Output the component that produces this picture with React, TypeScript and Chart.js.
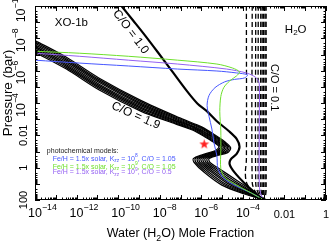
import { useEffect, useRef } from "react";
import { Chart, registerables } from "chart.js";

Chart.register(...registerables);

// ---------- axes ----------
const X_MIN = 1e-14;
const X_MAX = 1;
const Y_MIN = 1e-10; // top (pressure axis is reversed)
const Y_MAX = 100; // bottom

const X_TICK_VALUES = [1e-14, 1e-12, 1e-10, 1e-8, 1e-6, 1e-4, 0.01, 1];
const X_TICK_LABELS = ["10^{-14}", "10^{-12}", "10^{-10}", "10^{-8}", "10^{-6}", "10^{-4}", "0.01", "1"];
const Y_TICK_VALUES = [1e-10, 1e-8, 1e-6, 1e-4, 0.01, 1, 100];
const Y_TICK_LABELS = ["10^{-10}", "10^{-8}", "10^{-6}", "10^{-4}", "0.01", "1", "100"];

const X_TITLE = "Water (H_{2}O) Mole Fraction";
const Y_TITLE = "Pressure (bar)";

// ---------- profiles: [log10(H2O mole fraction), log10(P / bar)] ----------
// Thermochemical equilibrium, C/O = 1.0 (thick solid)
const CO_1_0 = [[-9.84,-10.0],[-9.27,-9.09],[-8.70,-8.17],[-8.09,-7.14],[-7.38,-5.92],[-6.67,-4.70],[-6.19,-3.97],[-5.72,-3.48],[-5.25,-2.87],[-4.68,-2.27],[-4.30,-1.78],[-4.16,-1.29],[-4.30,-0.86],[-4.59,-0.50],[-4.63,-0.19],[-4.40,0.29],[-3.92,0.96],[-3.45,1.51],[-2.98,2.0]];

// C/O > 1 (thin solid)
const CO_1_1 = [[-14.0,-7.87],[-12.49,-6.83],[-10.93,-5.55],[-8.89,-4.15],[-7.00,-3.06],[-5.96,-2.51],[-5.34,-2.02],[-4.87,-1.60],[-4.59,-1.23],[-4.73,-0.93],[-5.25,-0.74],[-5.63,-0.56],[-5.58,-0.32],[-5.15,0.05],[-4.30,0.78],[-3.59,1.39],[-2.98,2.0]];
const CO_1_2 = [[-14.0,-7.78],[-12.49,-6.74],[-10.93,-5.46],[-8.89,-4.07],[-7.08,-3.04],[-6.02,-2.49],[-5.40,-2.00],[-4.94,-1.60],[-4.66,-1.24],[-4.81,-0.95],[-5.34,-0.75],[-5.72,-0.56],[-5.68,-0.32],[-5.24,0.08],[-4.39,0.82],[-3.63,1.42],[-2.98,2.0]];
const CO_1_3 = [[-14.0,-7.69],[-12.49,-6.65],[-10.93,-5.37],[-8.89,-3.98],[-7.15,-3.01],[-6.08,-2.47],[-5.46,-1.99],[-5.01,-1.60],[-4.73,-1.25],[-4.88,-0.96],[-5.43,-0.76],[-5.82,-0.56],[-5.77,-0.32],[-5.33,0.11],[-4.48,0.86],[-3.67,1.45],[-2.98,2.0]];
const CO_1_4 = [[-14.0,-7.60],[-12.49,-6.56],[-10.93,-5.28],[-8.89,-3.90],[-7.23,-2.99],[-6.14,-2.44],[-5.52,-1.97],[-5.08,-1.60],[-4.80,-1.25],[-4.96,-0.98],[-5.52,-0.76],[-5.91,-0.56],[-5.87,-0.32],[-5.42,0.14],[-4.57,0.89],[-3.71,1.48],[-2.98,2.0]];
const CO_1_5 = [[-14.0,-7.50],[-12.49,-6.46],[-10.93,-5.18],[-8.89,-3.82],[-7.31,-2.96],[-6.20,-2.42],[-5.58,-1.96],[-5.16,-1.60],[-4.87,-1.26],[-5.04,-0.99],[-5.61,-0.77],[-6.01,-0.56],[-5.96,-0.32],[-5.51,0.17],[-4.66,0.93],[-3.76,1.51],[-2.98,2.0]];
const CO_1_6 = [[-14.0,-7.41],[-12.49,-6.37],[-10.93,-5.09],[-8.89,-3.73],[-7.38,-2.94],[-6.25,-2.40],[-5.64,-1.94],[-5.23,-1.60],[-4.94,-1.27],[-5.11,-1.01],[-5.69,-0.78],[-6.10,-0.56],[-6.06,-0.32],[-5.59,0.20],[-4.74,0.97],[-3.80,1.54],[-2.98,2.0]];
const CO_1_7 = [[-14.0,-7.32],[-12.49,-6.28],[-10.93,-5.00],[-8.89,-3.65],[-7.46,-2.92],[-6.31,-2.38],[-5.70,-1.93],[-5.30,-1.60],[-5.01,-1.27],[-5.19,-1.02],[-5.78,-0.78],[-6.19,-0.56],[-6.15,-0.32],[-5.68,0.23],[-4.83,1.01],[-3.84,1.57],[-2.98,2.0]];
const CO_1_8 = [[-14.0,-7.23],[-12.49,-6.19],[-10.93,-4.91],[-8.89,-3.56],[-7.53,-2.89],[-6.37,-2.35],[-5.76,-1.91],[-5.37,-1.60],[-5.08,-1.28],[-5.26,-1.04],[-5.87,-0.79],[-6.29,-0.56],[-6.25,-0.32],[-5.77,0.26],[-4.92,1.04],[-3.88,1.60],[-2.98,2.0]];
const CO_1_9 = [[-14.0,-7.14],[-12.49,-6.10],[-10.93,-4.82],[-8.89,-3.48],[-7.61,-2.87],[-6.43,-2.33],[-5.82,-1.90],[-5.44,-1.60],[-5.15,-1.29],[-5.34,-1.05],[-5.96,-0.80],[-6.38,-0.56],[-6.34,-0.32],[-5.86,0.29],[-5.01,1.08],[-3.92,1.63],[-2.98,2.0]];

// C/O < 1 (dashed)
const CO_0_9 = [[-3.83,-10.0],[-3.83,-0.5],[-3.88,0.3],[-3.83,0.9],[-3.60,1.4],[-3.25,1.8],[-2.98,2.0]];
const CO_0_8 = [[-3.55,-10.0],[-3.55,0.9],[-3.40,1.5],[-3.15,1.85],[-2.98,2.0]];
const CO_0_7 = [[-3.38,-10.0],[-3.38,1.0],[-3.27,1.55],[-3.10,1.85],[-2.98,2.0]];
const CO_0_6 = [[-3.26,-10.0],[-3.26,1.1],[-3.18,1.6],[-3.06,1.88],[-2.98,2.0]];
const CO_0_5 = [[-3.14,-10.0],[-3.14,1.2],[-3.09,1.65],[-3.02,1.9],[-2.98,2.0]];
const CO_0_4 = [[-3.07,-10.0],[-3.07,1.3],[-3.04,1.7],[-2.98,2.0]];
const CO_0_3 = [[-3.00,-10.0],[-3.00,1.4],[-2.99,1.8],[-2.98,2.0]];
const CO_0_2 = [[-2.93,-10.0],[-2.93,1.4],[-2.95,1.8],[-2.98,2.0]];
const CO_0_1 = [[-2.88,-10.0],[-2.88,1.4],[-2.92,1.8],[-2.98,2.0]];

// Photochemical models
const PHOTO_KZZ8_CO105 = [[-14.0,-6.65],[-11.87,-6.47],[-9.51,-6.29],[-7.14,-6.10],[-5.25,-5.98],[-4.30,-5.86],[-3.78,-5.74],[-3.92,-5.55],[-4.40,-5.46],[-4.87,-5.31],[-5.34,-4.95],[-5.63,-4.46],[-5.72,-3.85],[-5.63,-3.18],[-5.49,-2.39],[-5.39,-1.53],[-5.25,-0.74],[-5.20,0.05],[-4.92,0.66],[-4.30,1.15],[-3.59,1.57],[-2.98,2.0]];
const PHOTO_KZZ9_CO105 = [[-14.0,-7.20],[-11.87,-7.08],[-9.51,-6.89],[-7.14,-6.65],[-5.25,-6.41],[-4.49,-6.16],[-4.16,-5.92],[-4.30,-5.68],[-4.63,-5.37],[-4.92,-4.95],[-5.06,-4.40],[-5.11,-3.48],[-5.06,-2.27],[-5.06,-1.05],[-5.06,0.05],[-4.87,0.60],[-4.30,1.08],[-3.59,1.57],[-2.98,2.0]];
const PHOTO_KZZ9_CO05 = [[-14.0,-7.08],[-11.87,-6.89],[-9.51,-6.65],[-7.14,-6.41],[-4.78,-6.10],[-3.83,-5.86],[-3.50,-5.68],[-3.31,-5.49],[-3.21,-5.19],[-3.21,-2.87],[-3.21,1.08],[-3.12,1.69],[-2.98,2.0]];

// Observational constraint (red star)
const STAR_POINT = [[-5.86, -1.47]];

const LEGEND_TITLE = "photochemical models:";
const LEGEND_LINES = [
  "Fe/H = 1.5x solar, K_{zz} = 10^{8}, C/O = 1.05",
  "Fe/H = 1.5x solar, K_{zz} = 10^{9}, C/O = 1.05",
  "Fe/H = 1.5x solar, K_{zz} = 10^{9}, C/O = 0.5",
];

const BLUE = "#4656ff";
const GREEN = "#6ee02c";
const PURPLE = "#9460f2";
const LEGEND_COLORS = [BLUE, GREEN, PURPLE];

const FONT = '"Liberation Sans", Arial, Helvetica, sans-serif';

type Seg = [string, number]; // 0 normal, 1 subscript, 2 superscript

function parseRich(s: string): Seg[] {
  const segs: Seg[] = [];
  let buf = "";
  let i = 0;
  while (i < s.length) {
    const c = s[i];
    if ((c === "_" || c === "^") && s[i + 1] === "{") {
      if (buf) segs.push([buf, 0]);
      buf = "";
      const end = s.indexOf("}", i + 2);
      segs.push([s.slice(i + 2, end).replace(/-/g, "\u2212"), c === "_" ? 1 : 2]);
      i = end + 1;
    } else {
      buf += c;
      i++;
    }
  }
  if (buf) segs.push([buf, 0]);
  return segs;
}

function measureRich(ctx: CanvasRenderingContext2D, segs: Seg[], size: number) {
  return segs.map(([t, k]) => {
    const fs = k ? size * 0.7 : size;
    ctx.font = `${fs}px ${FONT}`;
    return { t, k, fs, w: ctx.measureText(t).width };
  });
}

function drawRich(
  ctx: CanvasRenderingContext2D,
  segs: Seg[],
  x: number,
  y: number,
  size: number,
  align: "left" | "center" | "right" | "base",
  rise = 0.45,
) {
  const parts = measureRich(ctx, segs, size);
  const total = parts.reduce((s, p) => s + p.w, 0);
  let cx = x;
  if (align === "center") cx = x - total / 2;
  else if (align === "right") cx = x - total;
  else if (align === "base") cx = x - parts[0].w / 2;
  ctx.textAlign = "left";
  for (const p of parts) {
    ctx.font = `${p.fs}px ${FONT}`;
    const dy = p.k === 1 ? size * 0.3 : p.k === 2 ? -size * rise : 0;
    ctx.fillText(p.t, cx, y + dy);
    cx += p.w;
  }
}

const MAJOR = 5;
const MINOR = 2.5;

const idlAxes = {
  id: "idlAxes",
  afterDatasetsDraw(chart: any) {
    const { ctx, chartArea: a, scales } = chart;
    const xs = scales.x;
    const ys = scales.y;
    ctx.save();
    ctx.strokeStyle = "#000";
    ctx.fillStyle = "#000";
    ctx.lineWidth = 1;
    ctx.strokeRect(a.left + 0.5, a.top + 0.5, a.right - a.left - 1, a.bottom - a.top - 1);

    ctx.beginPath();
    for (let k = -14; k <= 0; k++) {
      for (let m = 1; m <= 9; m++) {
        const v = m * Math.pow(10, k);
        if (v < X_MIN * 0.999 || v > X_MAX * 1.001) continue;
        const px = Math.round(xs.getPixelForValue(v)) + 0.5;
        const len = m === 1 ? MAJOR : MINOR;
        ctx.moveTo(px, a.bottom);
        ctx.lineTo(px, a.bottom - len);
        ctx.moveTo(px, a.top);
        ctx.lineTo(px, a.top + len);
      }
    }
    for (let k = -10; k <= 2; k++) {
      for (let m = 1; m <= 9; m++) {
        const v = m * Math.pow(10, k);
        if (v < Y_MIN * 0.999 || v > Y_MAX * 1.001) continue;
        const py = Math.round(ys.getPixelForValue(v)) + 0.5;
        const len = m === 1 ? MAJOR : MINOR;
        ctx.moveTo(a.left, py);
        ctx.lineTo(a.left + len, py);
        ctx.moveTo(a.right, py);
        ctx.lineTo(a.right - len, py);
      }
    }
    ctx.stroke();

    // tick labels
    ctx.textBaseline = "alphabetic";
    X_TICK_VALUES.forEach((v, i) => {
      const segs = parseRich(X_TICK_LABELS[i]);
      const px = xs.getPixelForValue(v);
      if (segs.length > 1) drawRich(ctx, segs, px, a.bottom + 17, 12.5, "base", 0.55);
      else drawRich(ctx, segs, px, a.bottom + 18, 11, "center");
    });
    Y_TICK_VALUES.forEach((v, i) => {
      const segs = parseRich(Y_TICK_LABELS[i]);
      const py = ys.getPixelForValue(v);
      ctx.save();
      if (segs.length > 1) {
        ctx.translate(a.left - 10, py + 2);
        ctx.rotate(-Math.PI / 2);
        drawRich(ctx, segs, 0, 0, 12.5, "center", 0.55);
      } else {
        ctx.translate(a.left - 8, py);
        ctx.rotate(-Math.PI / 2);
        drawRich(ctx, segs, 0, 0, 11, "center");
      }
      ctx.restore();
    });

    // axis titles
    drawRich(ctx, parseRich(X_TITLE), (a.left + a.right) / 2, a.bottom + 37, 12.5, "center");
    ctx.save();
    ctx.translate(12, a.top + 87);
    ctx.rotate(-Math.PI / 2);
    drawRich(ctx, parseRich(Y_TITLE), 0, 0, 13.5, "center");
    ctx.restore();

    // annotations
    const X = (lx: number) => xs.getPixelForValue(Math.pow(10, lx));
    const Y = (lp: number) => ys.getPixelForValue(Math.pow(10, lp));
    ctx.textBaseline = "middle";
    drawRich(ctx, parseRich("XO-1b"), X(-13.05), Y(-8.96), 11.5, "left");
    drawRich(ctx, parseRich("H_{2}O"), X(-1.98), Y(-8.54), 11.5, "left");

    const rotated = (txt: string, lx: number, lp: number, deg: number, size: number) => {
      ctx.save();
      ctx.translate(X(lx), Y(lp));
      ctx.rotate((deg * Math.PI) / 180);
      drawRich(ctx, parseRich(txt), 0, 0, size, "center");
      ctx.restore();
    };
    rotated("C/O = 1.0", -9.40, -8.40, 53, 12);
    rotated("C/O = 1.9", -9.15, -3.21, 24, 12);
    rotated("C/O = 0.1", -2.51, -4.95, 90, 11);

    ctx.fillStyle = "#222";
    drawRich(ctx, parseRich(LEGEND_TITLE), X(-13.43), Y(-1.05), 7, "left");
    const legendP = [-0.56, -0.07, 0.23];
    LEGEND_LINES.forEach((t, i) => {
      ctx.fillStyle = LEGEND_COLORS[i];
      drawRich(ctx, parseRich(t), X(-13.15), Y(legendP[i]) + i * 0.5, 7, "left");
    });
    ctx.restore();
  },
};

function makeStar() {
  const c = document.createElement("canvas");
  c.width = 11;
  c.height = 11;
  const g = c.getContext("2d")!;
  g.fillStyle = "#ff1f1f";
  g.beginPath();
  for (let i = 0; i < 10; i++) {
    const r = i % 2 === 0 ? 5.2 : 2.1;
    const ang = -Math.PI / 2 + (i * Math.PI) / 5;
    const px = 5.5 + r * Math.cos(ang);
    const py = 5.9 + r * Math.sin(ang);
    if (i) g.lineTo(px, py);
    else g.moveTo(px, py);
  }
  g.closePath();
  g.fill();
  return c;
}

const toPts = (arr: number[][]) => arr.map(([lx, lp]) => ({ x: Math.pow(10, lx), y: Math.pow(10, lp) }));

const lineDs = (arr: number[][], color: string, width: number, dash: number[] = []) => ({
  data: toPts(arr),
  showLine: true,
  borderColor: color,
  borderWidth: width,
  borderDash: dash,
  pointRadius: 0,
  fill: false,
  tension: 0.3,
  clip: 0,
});

export default function App() {
  const ref = useRef<HTMLCanvasElement>(null);
  useEffect(() => {
    document.body.style.margin = "0";
    const canvas = ref.current!;
    const star = makeStar();
    const band = [CO_1_1, CO_1_2, CO_1_3, CO_1_4, CO_1_5, CO_1_6, CO_1_7, CO_1_8, CO_1_9];
    const dashed = [CO_0_9, CO_0_8, CO_0_7, CO_0_6, CO_0_5, CO_0_4, CO_0_3, CO_0_2, CO_0_1];
    const datasets: any[] = [
      {
        data: toPts(STAR_POINT),
        pointStyle: star,
        pointRadius: 5,
        showLine: false,
        clip: 0,
      },
      lineDs(PHOTO_KZZ9_CO105, GREEN, 1),
      lineDs(PHOTO_KZZ8_CO105, BLUE, 1),
      lineDs(PHOTO_KZZ9_CO05, PURPLE, 1),
      lineDs(CO_1_0, "#000", 2.2),
      ...band.map((b) => lineDs(b, "#000", 1.25)),
      ...dashed.map((d) => lineDs(d, "#000", 1.3, [5, 3])),
    ];
    const chart = new Chart(canvas, {
      type: "scatter",
      data: { datasets },
      options: {
        animation: false,
        responsive: false,
        devicePixelRatio: 1,
        layout: { padding: { left: 35, right: 1, top: 3, bottom: 42 } },
        plugins: { legend: { display: false }, tooltip: { enabled: false } },
        scales: {
          x: { type: "logarithmic", min: X_MIN, max: X_MAX, bounds: "data", display: false },
          y: { type: "logarithmic", min: Y_MIN, max: Y_MAX, reverse: true, bounds: "data", display: false },
        },
      },
      plugins: [idlAxes],
    } as any);
    return () => chart.destroy();
  }, []);
  return (
    <div style={{ width: 332, height: 242 }}>
      <canvas ref={ref} width={332} height={242} style={{ display: "block", width: 332, height: 242 }} />
    </div>
  );
}
